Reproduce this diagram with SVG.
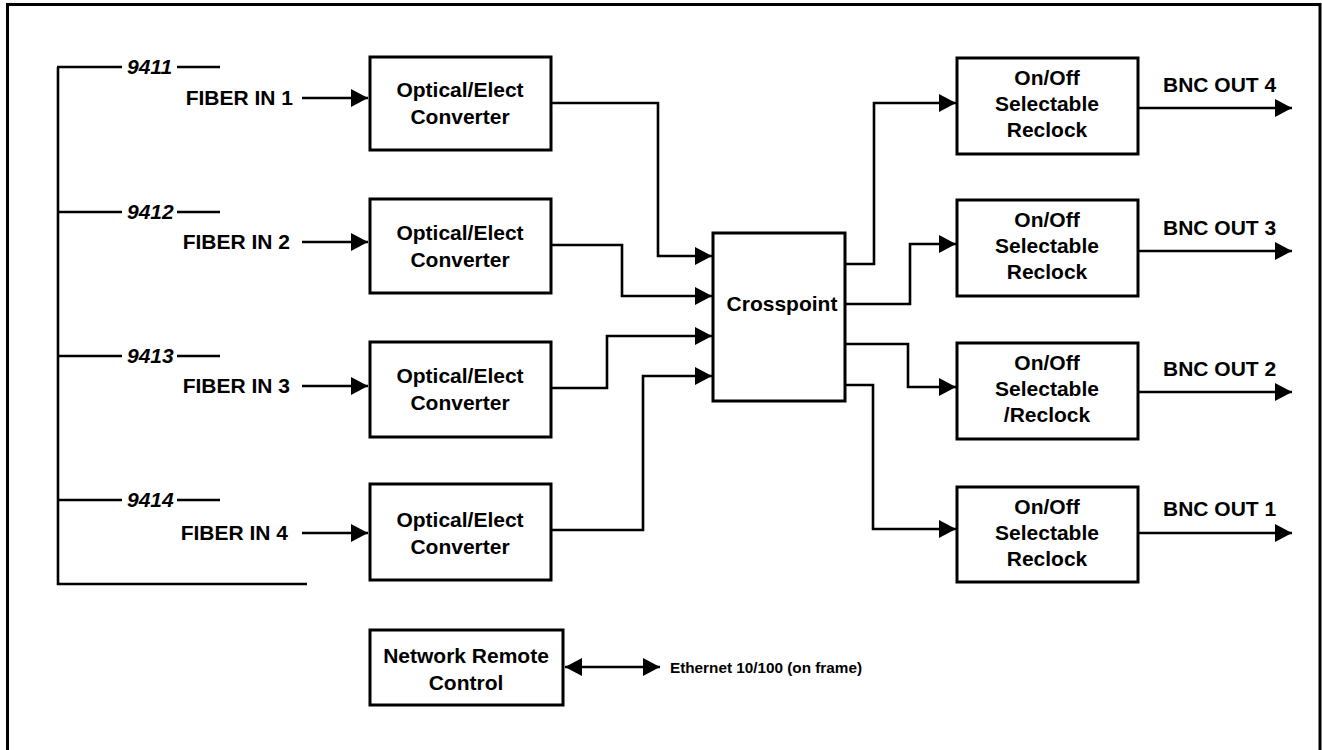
<svg xmlns="http://www.w3.org/2000/svg" width="1322" height="750" viewBox="0 0 1322 750">
<style>
.box{fill:#fff;stroke:#000;stroke-width:3}
.ln{fill:none;stroke:#000;stroke-width:2.6}
.t{font-family:"Liberation Sans",Arial,sans-serif;font-weight:bold;font-size:21px;fill:#000}
.c{text-anchor:middle}
.e{text-anchor:end}
.i{font-style:italic}
.s{font-size:15px}
</style>
<defs>
<marker id="ah" markerUnits="userSpaceOnUse" markerWidth="18" markerHeight="18" refX="17" refY="9" orient="auto-start-reverse" viewBox="0 0 18 18">
<path d="M0,0 L17,9 L0,18 Z" fill="#000"/>
</marker>
</defs>
<rect x="0" y="0" width="1322" height="750" fill="#fff"/>
<path d="M7.5,760 V4.5 H1320 V760" fill="none" stroke="#000" stroke-width="3"/>

<g id="bracket">
<path class="ln" d="M58,67 V584 H307"/>
<path class="ln" d="M57,67 H122 M177,67 H220"/>
<path class="ln" d="M57,212 H122 M177,212 H220"/>
<path class="ln" d="M57,356 H122 M177,356 H220"/>
<path class="ln" d="M57,500 H122 M177,500 H220"/>
<text class="t i" x="127" y="74">9411</text>
<text class="t i" x="127" y="219">9412</text>
<text class="t i" x="127" y="363">9413</text>
<text class="t i" x="127" y="507">9414</text>
</g>

<g id="connectors">
<path class="ln" d="M302,98 H368" marker-end="url(#ah)"/>
<path class="ln" d="M302,242 H368" marker-end="url(#ah)"/>
<path class="ln" d="M302,386 H368" marker-end="url(#ah)"/>
<path class="ln" d="M302,533 H368" marker-end="url(#ah)"/>
<path class="ln" d="M551,103 H658 V256 H712" marker-end="url(#ah)"/>
<path class="ln" d="M551,245 H622 V296 H712" marker-end="url(#ah)"/>
<path class="ln" d="M551,388 H607 V336 H712" marker-end="url(#ah)"/>
<path class="ln" d="M551,530 H643 V376 H712" marker-end="url(#ah)"/>
<path class="ln" d="M845,264 H874 V103 H956" marker-end="url(#ah)"/>
<path class="ln" d="M845,304 H910 V244 H956" marker-end="url(#ah)"/>
<path class="ln" d="M845,344 H908 V387 H956" marker-end="url(#ah)"/>
<path class="ln" d="M845,385 H873 V529 H956" marker-end="url(#ah)"/>
<path class="ln" d="M1138,108 H1292" marker-end="url(#ah)"/>
<path class="ln" d="M1138,251 H1292" marker-end="url(#ah)"/>
<path class="ln" d="M1138,392 H1292" marker-end="url(#ah)"/>
<path class="ln" d="M1138,533 H1292" marker-end="url(#ah)"/>
<path class="ln" d="M565,667 H660" marker-start="url(#ah)" marker-end="url(#ah)"/>
</g>

<g id="fiber-labels">
<text class="t e" x="293" y="105">FIBER IN 1</text>
<text class="t e" x="290" y="249">FIBER IN 2</text>
<text class="t e" x="290" y="393">FIBER IN 3</text>
<text class="t e" x="288" y="540">FIBER IN 4</text>
</g>

<g id="oe1"><rect class="box" x="370" y="57" width="181" height="93"/>
<text class="t c" x="460" y="97">Optical/Elect</text><text class="t c" x="460" y="124">Converter</text></g>
<g id="oe2"><rect class="box" x="370" y="199" width="181" height="94"/>
<text class="t c" x="460" y="240">Optical/Elect</text><text class="t c" x="460" y="267">Converter</text></g>
<g id="oe3"><rect class="box" x="370" y="342" width="181" height="95"/>
<text class="t c" x="460" y="383">Optical/Elect</text><text class="t c" x="460" y="410">Converter</text></g>
<g id="oe4"><rect class="box" x="370" y="484" width="181" height="96"/>
<text class="t c" x="460" y="527">Optical/Elect</text><text class="t c" x="460" y="554">Converter</text></g>

<g id="crosspoint"><rect class="box" x="713" y="233" width="132" height="168"/>
<text class="t c" x="782" y="311">Crosspoint</text></g>

<g id="rc4"><rect class="box" x="957" y="58" width="181" height="96"/>
<text class="t c" x="1047" y="85">On/Off</text><text class="t c" x="1047" y="111">Selectable</text><text class="t c" x="1047" y="137">Reclock</text></g>
<g id="rc3"><rect class="box" x="957" y="200" width="181" height="96"/>
<text class="t c" x="1047" y="227">On/Off</text><text class="t c" x="1047" y="253">Selectable</text><text class="t c" x="1047" y="279">Reclock</text></g>
<g id="rc2"><rect class="box" x="957" y="343" width="181" height="96"/>
<text class="t c" x="1047" y="370">On/Off</text><text class="t c" x="1047" y="396">Selectable</text><text class="t c" x="1047" y="422">/Reclock</text></g>
<g id="rc1"><rect class="box" x="957" y="487" width="181" height="95"/>
<text class="t c" x="1047" y="514">On/Off</text><text class="t c" x="1047" y="540">Selectable</text><text class="t c" x="1047" y="566">Reclock</text></g>

<g id="bnc-labels">
<text class="t" x="1163" y="92">BNC OUT 4</text>
<text class="t" x="1163" y="235">BNC OUT 3</text>
<text class="t" x="1163" y="376">BNC OUT 2</text>
<text class="t" x="1163" y="516">BNC OUT 1</text>
</g>

<g id="nrc"><rect class="box" x="370" y="630" width="193" height="75"/>
<text class="t c" x="466" y="663">Network Remote</text><text class="t c" x="466" y="690">Control</text></g>

<g id="ethernet"><text class="t s" x="670" y="673" textLength="192" lengthAdjust="spacingAndGlyphs">Ethernet 10/100 (on frame)</text></g>
</svg>
